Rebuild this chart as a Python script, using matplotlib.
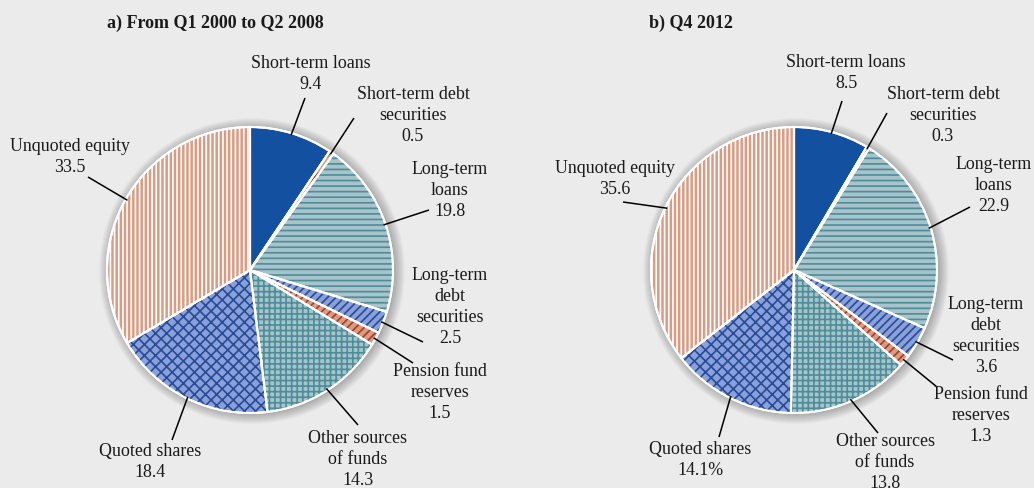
import matplotlib
matplotlib.use("Agg")
import matplotlib.pyplot as plt
import numpy as np
from matplotlib.patches import Wedge, Circle

# ---------------------------------------------------------------------------
# Data
# ---------------------------------------------------------------------------
categories = [
    "Short-term loans",
    "Short-term debt\nsecurities",
    "Long-term\nloans",
    "Long-term\ndebt\nsecurities",
    "Pension fund\nreserves",
    "Other sources\nof funds",
    "Quoted shares",
    "Unquoted equity",
]
values_a = [9.4, 0.5, 19.8, 2.5, 1.5, 14.3, 18.4, 33.5]
values_b = [8.5, 0.3, 22.9, 3.6, 1.3, 13.8, 14.1, 35.6]
value_text_a = ["9.4", "0.5", "19.8", "2.5", "1.5", "14.3", "18.4", "33.5"]
value_text_b = ["8.5", "0.3", "22.9", "3.6", "1.3", "13.8", "14.1%", "35.6"]
title_a = "a) From Q1 2000 to Q2 2008"
title_b = "b) Q4 2012"

# ---------------------------------------------------------------------------
# Styles
# ---------------------------------------------------------------------------
BG = "#ebebeb"
DARK_BLUE = "#1351a0"
SALMON = "#d99b82"
TEAL_FILL = "#a9c3cb"
TEAL_LINE = "#4b8d99"
LAVENDER = "#8b9fd8"
NAVY = "#244c98"
RED = "#a63b26"

face_colors = [DARK_BLUE, SALMON, TEAL_FILL, LAVENDER, SALMON, TEAL_FILL, LAVENDER, SALMON]
hatches = [None, "////", "---", "////", "////", "+++", "xxx", "||||"]
hatch_colors = [None, RED, TEAL_LINE, NAVY, RED, TEAL_LINE, NAVY, "white"]

# layout in pixel units (origin top-left)
H = 488
centers = [(250, 270), (794, 270)]
RADIUS = 143
label_pos_a = [(311, 55), (413, 86), (450, 161), (450, 267),
               (440, 363), (358, 430), (150, 443), (70, 138)]
label_pos_b = [(846, 54), (943, 86), (994, 156), (986, 296),
               (981, 386), (885, 433), (700, 441), (615, 160)]
leader_end_a = [(305, 98), (354, 118), (429, 210), (423, 342),
                (413, 363), (358, 425), (172, 440), (88, 177)]
leader_end_b = [(842, 101), (887, 113), (970, 207), (953, 360),
                (937, 387), (878, 433), (719, 437), (623, 202)]
title_pos = [(215, 23), (691, 23)]

plt.rcParams["font.family"] = ["Liberation Serif", "DejaVu Serif"]
plt.rcParams["hatch.linewidth"] = 1.2
FS = 12.9

fig = plt.figure(figsize=(10.34, 4.88), dpi=100)
fig.patch.set_facecolor(BG)
ax = fig.add_axes([0, 0, 1, 1])
ax.set_facecolor(BG)


def draw_pie(values, center_px, labels_pos, ends, value_texts):
    cx, cy = center_px[0], H - center_px[1]
    # soft shadow
    for i in range(12):
        ax.add_patch(Circle((cx + 2, cy - 1), RADIUS + i * 0.9,
                            facecolor="black", edgecolor="none",
                            alpha=0.022, zorder=0))
    wedges, _ = ax.pie(values, startangle=90, counterclock=False,
                       center=(cx, cy), radius=RADIUS, colors=face_colors,
                       wedgeprops=dict(edgecolor="white", linewidth=1.5))
    for w, h, hc in zip(wedges, hatches, hatch_colors):
        w.set_zorder(1)
        if h:
            ax.add_patch(Wedge(w.center, w.r, w.theta1, w.theta2,
                               facecolor="none", edgecolor=hc, hatch=h,
                               linewidth=0, zorder=2))
        ax.add_patch(Wedge(w.center, w.r, w.theta1, w.theta2,
                           facecolor="none", edgecolor="white",
                           linewidth=1.5, zorder=3))
    for w, cat, vt, lp, ep in zip(wedges, categories, value_texts, labels_pos, ends):
        mid = np.deg2rad((w.theta1 + w.theta2) / 2)
        sx = cx + (RADIUS - 2) * np.cos(mid)
        sy = cy + (RADIUS - 2) * np.sin(mid)
        ax.plot([sx, ep[0]], [sy, H - ep[1]], color="black", lw=1.1,
                zorder=4, solid_capstyle="butt")
        ax.text(lp[0], H - lp[1], f"{cat}\n{vt}", ha="center", va="top",
                fontsize=FS, color="#1a1a1a", linespacing=1.32, zorder=5)


draw_pie(values_a, centers[0], label_pos_a, leader_end_a, value_text_a)
draw_pie(values_b, centers[1], label_pos_b, leader_end_b, value_text_b)

for (tx, ty), t in zip(title_pos, [title_a, title_b]):
    ax.text(tx, H - ty, t, ha="center", va="center", fontsize=13,
            fontweight="bold", color="#1a1a1a")

ax.set_xlim(0, 1034)
ax.set_ylim(0, H)
ax.set_aspect("equal")
ax.axis("off")

fig.savefig("out.png", dpi=100, facecolor=BG)
